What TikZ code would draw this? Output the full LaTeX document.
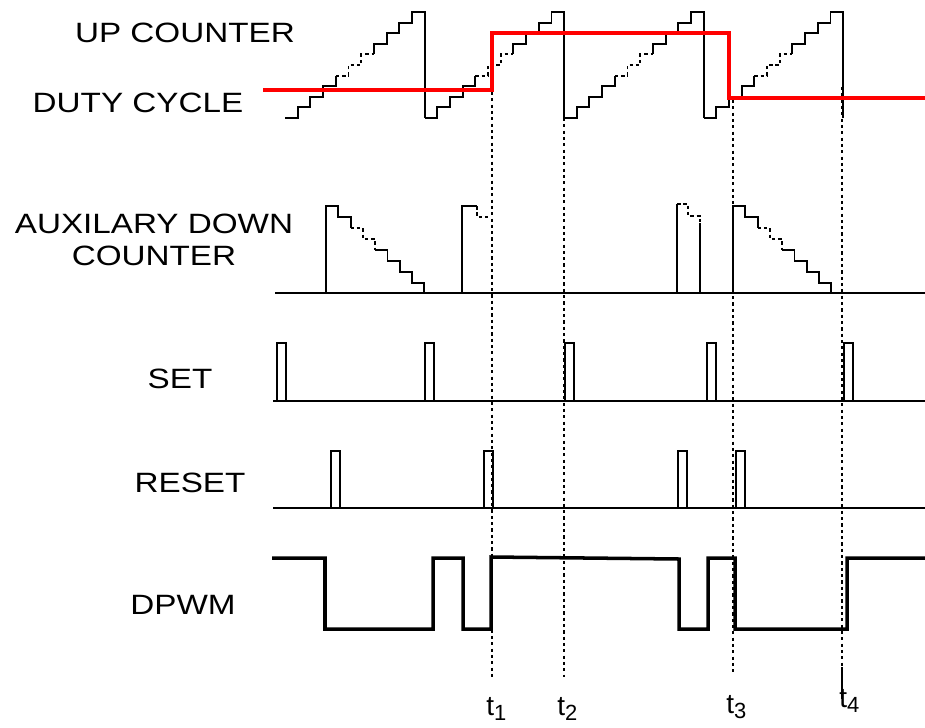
\documentclass[tikz,border=0pt]{standalone}
\usepackage{fontspec}
\setmainfont{Liberation Sans}
\newcommand\lbl[1]{\scalebox{1.19}[1]{#1}}
\newcommand\tsub[1]{t\raisebox{-0.2em}{\fontsize{12.5}{14}\selectfont #1}}
\begin{document}
\begin{tikzpicture}[x=0.02cm,y=-0.02cm,
  wave/.style={line width=1.1pt,line join=miter},
  dots/.style={dash pattern=on 2pt off 1.6pt},
  axis/.style={line width=1.1pt},
  duty/.style={line width=2.2pt,red},
  pwm/.style={line width=2pt},
  guide/.style={line width=0.8pt,dash pattern=on 1.8pt off 1.8pt},
  txt/.style={font=\fontsize{15.9}{19}\selectfont,inner sep=0pt,anchor=base}]
\useasboundingbox (0,0) rectangle (925,727);
\node[txt] (upcnt) at (185,42) {\lbl{UP COUNTER}};
\node[txt] (duty) at (138,112) {\lbl{DUTY CYCLE}};
\node[txt] (auxa) at (154,233) {\lbl{AUXILARY DOWN}};
\node[txt] (auxb) at (154,265) {\lbl{COUNTER}};
\node[txt] (setlbl) at (180,388) {\lbl{SET}};
\node[txt] (rstlbl) at (190,492) {\lbl{RESET}};
\node[txt] (dpwm) at (183,614) {\lbl{DPWM}};
\foreach \k in {0,...,3}{
  \pgfmathsetmacro\xo{285+139.5*\k}
  \draw[wave] (\xo,118) \foreach \i in {1,...,4}{ -- ++(12.7,0) -- ++(0,-10.6)};
  \draw[wave,dots] (\xo+50.8,75.6) \foreach \i in {1,2}{ -- ++(12.7,0) -- ++(0,-10.6)} -- ++(12.7,0);
  \draw[wave] (\xo+88.9,54.4) \foreach \i in {1,...,4}{ -- ++(0,-10.6) -- ++(12.7,0)} -- ++(0,106);
}
\draw[duty] (263,90) -- (492,90) -- (492,33) -- (729,33) -- (729,98) -- (925,98);
\draw[axis] (275,293) -- (925,293);
\foreach \s in {326,733}{
  \draw[wave] (\s,293) -- (\s,206) -- ++(12.3,0) -- ++(0,11) -- ++(12.3,0) -- ++(0,11);
  \draw[wave,dots] (\s+24.6,228) -- ++(12.3,0) -- ++(0,11) -- ++(12.3,0) -- ++(0,11);
  \draw[wave] (\s+49.2,250) \foreach \i in {1,2,3}{ -- ++(12.3,0) -- ++(0,11)} -- ++(12.3,0) -- ++(0,10);
}
\draw[wave] (462,293) -- (462,206) -- (477,206);
\draw[wave,dots] (477,206) -- (477,217) -- (490,217);
\draw[wave] (677,293) -- (677,204);
\draw[wave,dots] (677,204) -- (688,204) -- (688,216) -- (700,216) -- (700,223);
\draw[wave] (700,223) -- (700,293);
\draw[axis] (273,401) -- (925,401);
\foreach \x in {277,425,565,707,844}
  \draw[wave] (\x,401) -- (\x,343) -- (\x+9,343) -- (\x+9,401);
\draw[axis] (273,508) -- (925,508);
\foreach \x in {331,484,678,736}
  \draw[wave] (\x,508) -- (\x,451) -- (\x+9,451) -- (\x+9,508);
\draw[pwm] (272,558) -- (325,558) -- (325,629) -- (433,629) -- (433,558) -- (463,558) -- (463,629) -- (491,629) -- (491,557) -- (679,559) -- (679,629) -- (708,629) -- (708,558) -- (735,558) -- (735,629) -- (847,629) -- (847,558) -- (925,558);
\foreach \x/\ya/\yb in {492/92/678,564/118/677,733/100/675,842/87/667}
  \draw[guide] (\x,\ya) -- (\x,\yb);
\draw[line width=0.6pt] (842,667) -- (842,699);
\node[txt,anchor=base west] (t1) at (486,715) {\tsub{1}};
\node[txt,anchor=base west] (t2) at (557,715) {\tsub{2}};
\node[txt,anchor=base west] (t3) at (726,713) {\tsub{3}};
\node[txt,anchor=base west] (t4) at (839,707) {\tsub{4}};
\end{tikzpicture}
\end{document}
